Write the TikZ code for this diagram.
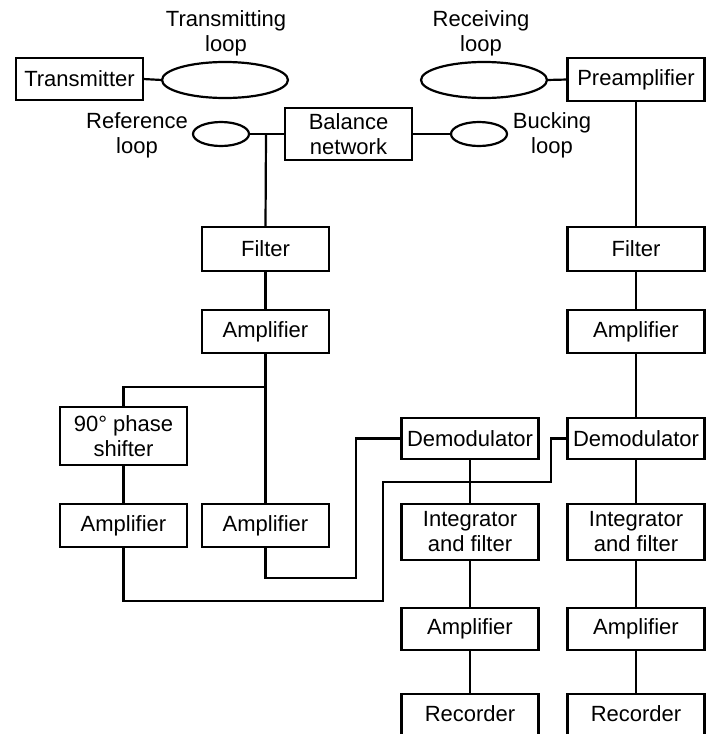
\documentclass[tikz,border=0pt]{standalone}
\usepackage{fontspec}
\setmainfont{Liberation Sans}
\usetikzlibrary{shapes.geometric}
\begin{document}
\begin{tikzpicture}[x=1pt,y=-1pt,
  every node/.style={font=\fontsize{22}{25}\selectfont, inner sep=0pt, outer sep=0pt},
  blk/.style={draw, line width=2.2pt, align=center, minimum height=#1},
  blk/.default=43pt,
  wl/.style={blk=#1, minimum width=127pt},
  wl/.default=43pt,
  wr/.style={blk=#1, minimum width=137pt},
  wr/.default=43pt,
  loopshape/.style={draw, ellipse, line width=2.2pt},
  lbl/.style={align=center},
  conn/.style={line width=2.2pt}]
\useasboundingbox (0,0) rectangle (715,734);
\clip (0,0) rectangle (715,734);
% top row
\node[blk, minimum width=127pt, minimum height=42pt] (tx) at (79.5,79) {Transmitter};
\node[loopshape, minimum width=126pt, minimum height=36pt] (tloop) at (225,80) {};
\node[lbl] (tlab) at (226,33) {Transmitting\\loop};
\node[loopshape, minimum width=126pt, minimum height=36pt] (rloop) at (484,80) {};
\node[lbl] (rlab) at (481,33) {Receiving\\loop};
\node[wr] (pre) at (636,79.5) {Preamplifier};
% loops row
\node[loopshape, minimum width=56pt, minimum height=24pt] (refloop) at (221,134) {};
\node[lbl] (reflab) at (137,135) {Reference\\loop};
\node[wl=52pt] (bal) at (348.5,134) {Balance\\network};
\node[loopshape, minimum width=56pt, minimum height=24pt] (buck) at (479,134) {};
\node[lbl] (bucklab) at (552,135) {Bucking\\loop};
% left column
\node[wl=44pt] (filL) at (265.5,249) {Filter};
\node[wl] (ampL) at (265.5,331.5) {Amplifier};
\node[wl=58pt] (phase) at (123.5,436) {90° phase\\shifter};
\node[wl] (ampLL) at (123.5,525.5) {Amplifier};
\node[wl] (ampM) at (265.5,525.5) {Amplifier};
% right columns
\node[wr=44pt] (filR) at (636,249) {Filter};
\node[wr] (ampR) at (636,331.5) {Amplifier};
\node[wr=41pt] (demL) at (470,438.5) {Demodulator};
\node[wr=41pt] (demR) at (636,438.5) {Demodulator};
\node[wr=56pt] (intL) at (470,532) {Integrator\\and filter};
\node[wr=56pt] (intR) at (636,532) {Integrator\\and filter};
\node[wr=42pt] (ampBL) at (470,629) {Amplifier};
\node[wr=42pt] (ampBR) at (636,629) {Amplifier};
\node[minimum width=137pt, minimum height=40pt] (recL) at (470,714) {Recorder};
\node[minimum width=137pt, minimum height=40pt] (recR) at (636,714) {Recorder};
\draw[conn] ([yshift=-20pt]recL.south west) -- (recL.north west) -- (recL.north east) -- ([yshift=-20pt]recL.south east);
\draw[conn] ([yshift=-20pt]recR.south west) -- (recR.north west) -- (recR.north east) -- ([yshift=-20pt]recR.south east);
% coordinates
\coordinate (j1) at (266,134);
\coordinate (j2) at (266,387);
\coordinate (c1) at (356,578);
\coordinate (c2) at (383,601);
\coordinate (c3) at (551,482);
% connectors
\draw[conn] (tx.east) -- (tloop.west);
\draw[conn] (rloop.east) -- (pre.west);
\draw[conn] (refloop.east) -- (bal.west);
\draw[conn] (bal.east) -- (buck.west);
\draw[conn] (j1) -- (filL.north);
\draw[conn] (pre.south) -- (filR.north);
\draw[conn] (filL.south) -- (ampL.north);
\draw[conn] (filR.south) -- (ampR.north);
\draw[conn] (ampL.south) -- (ampM.north);
\draw[conn] (j2) -| (phase.north);
\draw[conn] (phase.south) -- (ampLL.north);
\draw[conn] (ampR.south) -- (demR.north);
\draw[conn] (demL.south) -- (intL.north);
\draw[conn] (demR.south) -- (intR.north);
\draw[conn] (intL.south) -- (ampBL.north);
\draw[conn] (intR.south) -- (ampBR.north);
\draw[conn] (ampBL.south) -- (recL.north);
\draw[conn] (ampBR.south) -- (recR.north);
\draw[conn] (ampM.south) |- (c1) |- (demL.west);
\draw[conn] (ampLL.south) |- (c2) |- (c3) |- (demR.west);
\end{tikzpicture}
\end{document}
